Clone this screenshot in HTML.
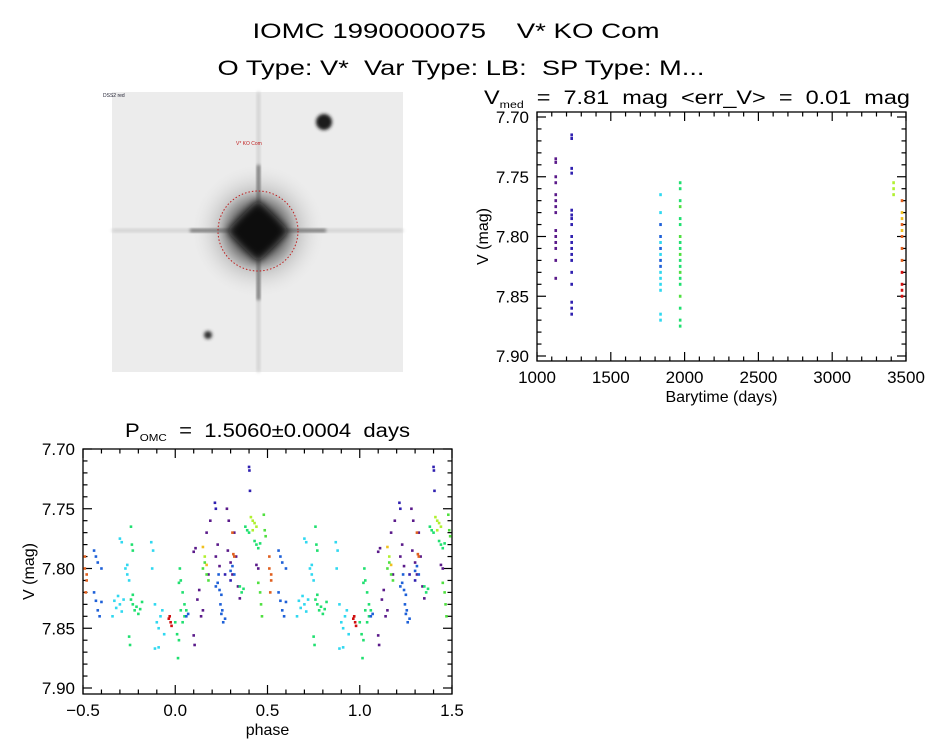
<!DOCTYPE html>
<html><head><meta charset="utf-8"><style>
body{margin:0;background:#fff;}
svg{display:block;font-family:"Liberation Sans",sans-serif;}
text{white-space:pre;}
</style></head><body>
<svg id="s" width="944" height="747" viewBox="0 0 944 747" xmlns="http://www.w3.org/2000/svg">
<rect width="944" height="747" fill="#fff"/>
<text x="456" y="38" font-size="21" text-anchor="middle" xml:space="preserve" textLength="407" lengthAdjust="spacingAndGlyphs">IOMC 1990000075    V* KO Com</text>
<text x="461" y="75" font-size="21" text-anchor="middle" xml:space="preserve" textLength="487" lengthAdjust="spacingAndGlyphs">O Type: V*  Var Type: LB:  SP Type: M...</text>
<g>
<defs>
<radialGradient id="halo"><stop offset="0" stop-color="#000"/><stop offset="0.22" stop-color="#111"/><stop offset="0.4" stop-color="#666"/><stop offset="0.6" stop-color="#c4c4c4"/><stop offset="1" stop-color="#ececec" stop-opacity="0"/></radialGradient>
<filter id="blur" x="-50%" y="-50%" width="200%" height="200%"><feGaussianBlur stdDeviation="4"/></filter>
<filter id="blur2" x="-50%" y="-50%" width="200%" height="200%"><feGaussianBlur stdDeviation="1.5"/></filter>
</defs>
<rect x="112" y="92" width="291" height="280" fill="#ececec"/>
<rect x="112" y="229" width="291" height="3" fill="#cdcdcd" filter="url(#blur2)"/>
<rect x="257" y="92" width="3" height="280" fill="#cdcdcd" filter="url(#blur2)"/>
<circle cx="258" cy="231" r="68" fill="url(#halo)" opacity="0.85"/>
<rect x="190" y="229" width="136" height="3" fill="#666" filter="url(#blur2)"/>
<rect x="257" y="165" width="3" height="135" fill="#666" filter="url(#blur2)"/>
<polygon points="258,200 289,231 258,262 227,231" fill="#111" filter="url(#blur)"/>
<circle cx="258" cy="231" r="40" fill="none" stroke="#c02020" stroke-width="1" stroke-dasharray="1.5,2"/>
<circle cx="324" cy="122" r="8" fill="#1a1a1a" filter="url(#blur2)"/>
<circle cx="208" cy="335" r="4" fill="#333" filter="url(#blur2)"/>
<text x="236" y="145" font-size="5" fill="#c02020">V* KO Com</text>
<text x="103" y="97" font-size="5" fill="#223">DSS2 red</text>
</g>
<g id="topPlot"></g>
<g id="botPlot"></g>
</svg>
<script>
const colors=["#5a1a8a","#3020b0","#1e60d8","#30d8f0","#20e070","#50e040","#b0f030","#f0c020","#e06020","#d01010"];
const tsTime=[1127,1127,1127,1127,1127,1127,1127,1127,1127,1127,1127,1127,1127,1127,
1235,1235,1235,1235,1235,1235,1235,1235,1235,1235,1235,1235,1235,1235,1235,1235,1235,1235,
1837,1837,1837,1837,1837,1837,1837,1837,1837,1837,1837,1837,1837,1837,1837,
1970,1970,1970,1970,1970,1970,1970,1970,1970,1970,1970,1970,1970,1970,1970,1970,1970,1970,1970,
3416,3416,3416,
3473,3473,3473,3473,3473,3473,3473,3473,3473,3473,3473,3473];
const tsMag=[7.735,7.738,7.750,7.755,7.765,7.770,7.775,7.780,7.795,7.800,7.805,7.810,7.820,7.835,
7.715,7.718,7.743,7.747,7.778,7.782,7.785,7.790,7.800,7.805,7.810,7.815,7.820,7.830,7.840,7.855,7.860,7.865,
7.765,7.780,7.790,7.800,7.805,7.810,7.815,7.820,7.825,7.830,7.835,7.840,7.845,7.865,7.870,
7.755,7.760,7.770,7.775,7.785,7.790,7.800,7.805,7.810,7.815,7.820,7.825,7.830,7.835,7.840,7.850,7.860,7.870,7.875,
7.755,7.760,7.765,
7.770,7.780,7.785,7.790,7.795,7.800,7.810,7.820,7.830,7.840,7.845,7.850];
const tsCol=[0,0,0,0,0,0,0,0,0,0,0,0,0,0,
1,1,1,1,1,1,1,1,1,1,1,1,1,1,1,1,1,1,
3,3,2,2,3,2,3,2,2,3,3,3,3,3,3,
4,4,4,5,4,4,5,4,4,5,4,4,5,4,4,5,4,4,4,
6,6,6,
8,7,7,8,7,8,8,8,9,9,9,9];
const phPhase=[0.51,0.51,0.52,0.515,0.52,
0.56,0.57,0.58,0.60,0.56,0.57,0.58,0.59,0.60,
0.66,0.67,0.68,0.69,0.70,0.71,0.72,0.70,0.71,0.73,0.74,0.75,0.74,
0.76,0.77,0.78,0.79,0.80,0.81,0.82,0.76,0.765,0.77,0.75,0.755,0.77,
0.87,0.88,0.875,0.89,0.90,0.91,0.92,0.93,0.89,0.91,0.94,
0.97,0.975,0.98,0.965,
0.00,0.01,0.02,0.015,0.02,0.03,0.04,0.05,0.03,0.04,0.05,0.06,0.025,
0.06,0.07,
0.10,0.11,0.10,0.105,0.12,0.13,0.14,0.15,0.17,0.18,0.19,
0.15,0.17,
0.15,0.16,0.17,0.18,0.16,
0.215,0.22,0.23,0.22,0.24,
0.22,0.23,0.24,0.25,0.235,
0.245,0.25,0.26,0.27,0.255,
0.28,0.29,0.285,0.30,0.31,0.32,0.33,0.34,0.35,0.30,0.27,
0.31,0.315,0.32,
0.30,0.31,0.32,
0.35,0.36,0.37,
0.38,0.39,0.40,
0.40,0.402,0.405,
0.41,0.42,0.43,0.44,0.42,
0.43,0.44,0.45,0.46,
0.44,0.45,
0.45,0.46,0.465,0.47,
0.48,0.485,0.49];
const phMag=[7.790,7.800,7.810,7.820,7.805,
7.785,7.790,7.795,7.800,7.820,7.827,7.835,7.840,7.828,
7.840,7.827,7.833,7.823,7.830,7.836,7.826,7.775,7.778,7.800,7.805,7.810,7.797,
7.826,7.830,7.835,7.832,7.838,7.834,7.828,7.765,7.780,7.785,7.857,7.864,7.822,
7.778,7.785,7.800,7.830,7.845,7.850,7.840,7.835,7.867,7.866,7.855,
7.840,7.845,7.848,7.842,
7.845,7.855,7.860,7.875,7.812,7.810,7.820,7.830,7.835,7.845,7.840,7.835,7.800,
7.840,7.838,
7.786,7.783,7.856,7.864,7.826,7.818,7.840,7.835,7.770,7.805,7.760,
7.782,7.797,
7.800,7.795,7.805,7.810,7.790,
7.745,7.750,7.780,7.790,7.798,
7.815,7.812,7.818,7.822,7.805,
7.830,7.838,7.845,7.842,7.835,
7.750,7.760,7.785,7.795,7.805,7.770,7.790,7.815,7.825,7.810,7.805,
7.770,7.788,7.790,
7.802,7.798,7.805,
7.815,7.820,7.817,
7.765,7.768,7.770,
7.715,7.718,7.735,
7.757,7.760,7.762,7.765,7.768,
7.777,7.780,7.783,7.779,
7.797,7.800,
7.812,7.820,7.830,7.840,
7.755,7.768,7.773];
const phCol=[8,8,8,8,8,
2,2,2,2,2,2,2,2,2,
3,3,3,3,3,3,3,3,3,3,3,3,3,
4,4,4,4,4,4,4,4,4,4,4,4,4,
3,3,3,3,3,3,3,3,3,3,3,
9,9,9,9,
4,4,4,4,4,4,4,4,4,4,4,4,4,
2,2,
0,0,0,0,0,0,0,0,0,0,0,
7,7,
5,5,5,5,6,
1,1,0,0,0,
2,2,2,2,2,
2,2,2,2,2,
0,0,0,0,0,0,0,0,0,1,1,
8,8,8,
2,2,2,
4,4,4,
4,4,4,
1,1,1,
6,6,6,6,6,
4,4,4,4,
0,0,
5,5,5,5,
5,5,5];
const magTicks=["7.70","7.75","7.80","7.85","7.90"];
const timeTicks=["1000","1500","2000","2500","3000","3500"];
const phaseTicks=["\u22120.5","0.0","0.5","1.0","1.5"];
const timeTickVals=[1000,1500,2000,2500,3000,3500];
const phaseTickVals=[-0.5,0,0.5,1,1.5];
const magTickVals=[7.70,7.75,7.80,7.85,7.90];

const NS="http://www.w3.org/2000/svg";
function mk(p,tag,a,txt){const e=document.createElementNS(NS,tag);for(const k in a)e.setAttribute(k,a[k]);if(txt!==undefined)e.textContent=txt;p.appendChild(e);return e;}

function panel(g,box,xr,yr,xTickVals,xTickLab,xMinor,xTitle,title){
  const X=v=>box.x0+(v-xr[0])/(xr[1]-xr[0])*(box.x1-box.x0);
  const Y=v=>box.yA+(v-yr[0])/(yr[1]-yr[0])*(box.yB-box.yA);
  const fr=mk(g,'rect',{x:box.x0,y:box.y0,width:box.x1-box.x0,height:box.y1-box.y0,fill:'none',stroke:'#000','stroke-width':1.3});
  
  
  const ax=mk(g,'g',{});
  
  
  const nx=Math.round((xr[1]-xr[0])/xMinor);
  for(let k=0;k<=nx;k++){
    const v=xr[0]+k*xMinor;
    const big=xTickVals.some(t=>Math.abs(t-v)<1e-6);const L=big?9:4.5;const x=X(v);
    mk(ax,'line',{x1:x,x2:x,y1:box.y1,y2:box.y1-L,stroke:'#000','stroke-width':1.2});
    mk(ax,'line',{x1:x,x2:x,y1:box.y0,y2:box.y0+L,stroke:'#000','stroke-width':1.2});
  }
  for(let k=0;k<=20;k++){
    const v=7.70+k*0.01;
    const big=(k%5===0);const L=big?9:4.5;const y=Y(v);
    mk(ax,'line',{x1:box.x0,x2:box.x0+L,y1:y,y2:y,stroke:'#000','stroke-width':1.2});
    mk(ax,'line',{x1:box.x1,x2:box.x1-L,y1:y,y2:y,stroke:'#000','stroke-width':1.2});
  }
  xTickVals.forEach((v,i)=>{const t=mk(ax,'text',{x:X(v),y:box.y1+22,'font-size':17,'text-anchor':'middle'},xTickLab[i]);
    
    });
  magTickVals.forEach((v,i)=>{const t=mk(ax,'text',{x:box.x0-8,y:Y(v)+6,'font-size':17,'text-anchor':'end'},magTicks[i]);
    
    });
  const xt=mk(g,'text',{x:(box.x0+box.x1)/2,y:box.y1+41,'font-size':16,'text-anchor':'middle'},xTitle);
  
  
  const yt=mk(g,'text',{x:0,y:0,'font-size':16,'text-anchor':'middle',transform:`translate(${box.x0-49},${(box.y0+box.y1)/2}) rotate(-90)`},'V (mag)');
  
  
  title(g);
  const pts=mk(g,'g',{});
  
  
  return {X,Y,pts};
}

const topG=document.getElementById('topPlot');
const A=panel(topG,{x0:537,x1:906,y0:112,y1:361,yA:117,yB:356},[1000,3500],[7.70,7.90],timeTickVals,timeTicks,100,'Barytime (days)',g=>{
  const t=mk(g,'text',{x:484,y:104,'font-size':19,textLength:426,lengthAdjust:'spacingAndGlyphs'},'');
  
  
  mk(t,'tspan',{},'V');mk(t,'tspan',{'font-size':10,dy:4},'med');mk(t,'tspan',{dy:-4},'  =  7.81  mag  <err_V>  =  0.01  mag');
});
tsTime.forEach((tv,i)=>{
  const r=mk(A.pts,'rect',{x:A.X(tv)-1.3,y:A.Y(tsMag[i])-1.5,width:2.6,height:3,fill:colors[tsCol[i]]});
  
  
});

const botG=document.getElementById('botPlot');
const B=panel(botG,{x0:83,x1:452,y0:449,y1:694,yA:449,yB:688},[-0.5,1.5],[7.70,7.90],phaseTickVals,phaseTicks,0.1,'phase',g=>{
  const t=mk(g,'text',{x:125,y:437,'font-size':19,textLength:285,lengthAdjust:'spacingAndGlyphs'},'');
  
  
  mk(t,'tspan',{},'P');mk(t,'tspan',{'font-size':10,dy:4},'OMC');mk(t,'tspan',{dy:-4},'  =  1.5060\u00b10.0004  days');
});
phPhase.forEach((p,i)=>{
  [p-1,p,p+1].forEach(q=>{
    if(q<-0.5||q>1.5)return;
    const r=mk(B.pts,'rect',{x:B.X(q)-1.3,y:B.Y(phMag[i])-1.3,width:2.6,height:2.6,fill:colors[phCol[i]]});
    
    
  });
});
</script>
</body></html>
